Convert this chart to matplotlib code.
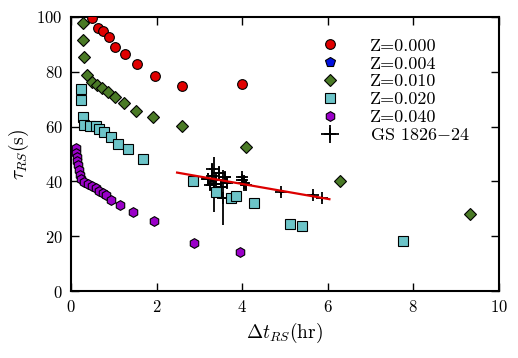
import numpy as np
import matplotlib
matplotlib.use("Agg")
import matplotlib.pyplot as plt

plt.rcParams['font.family'] = 'cmr10'
plt.rcParams['mathtext.fontset'] = 'cm'
plt.rcParams['axes.formatter.use_mathtext'] = True

# model curves (Delta t_RS in hr, tau_RS in s)
z000_x = [0.49, 0.64, 0.76, 0.88, 1.04, 1.26, 1.55, 1.96, 2.59, 4.0]
z000_y = [99.6, 95.9, 94.9, 92.5, 88.9, 86.4, 82.8, 78.5, 74.8, 75.4]

z004_x = []
z004_y = []

z010_x = [0.29, 0.27, 0.30, 0.37, 0.48, 0.61, 0.73, 0.87, 1.03, 1.23, 1.53, 1.91, 2.59, 4.09, 6.28, 9.32]
z010_y = [97.9, 91.6, 85.3, 78.7, 76.4, 75.1, 74.0, 72.6, 70.9, 68.7, 65.8, 63.3, 60.3, 52.7, 40.1, 28.1]

z020_x = [0.23, 0.23, 0.28, 0.31, 0.44, 0.58, 0.66, 0.78, 0.93, 1.11, 1.34, 1.69,
          2.85, 3.40, 3.74, 3.86, 4.28, 5.12, 5.39, 7.77]
z020_y = [73.6, 69.6, 63.4, 60.7, 60.3, 60.2, 59.2, 58.0, 56.1, 53.6, 51.7, 48.1,
          40.3, 36.2, 34.1, 34.8, 32.0, 24.5, 23.7, 18.1]

z040_x = [0.11, 0.12, 0.13, 0.15, 0.16, 0.19, 0.21, 0.23, 0.30, 0.40, 0.50, 0.58,
          0.66, 0.74, 0.81, 0.93, 1.14, 1.46, 1.95, 2.88, 3.96]
z040_y = [52.0, 50.5, 49.0, 47.4, 46.0, 44.2, 42.3, 40.8, 39.7, 39.1, 38.3, 37.5,
          36.6, 35.9, 34.9, 33.2, 31.5, 28.9, 25.5, 17.4, 14.3]

# GS 1826-24 observations
gs_x = [3.20, 3.25, 3.30, 3.35, 3.40, 3.45, 3.50, 3.55, 3.60, 3.65, 3.30,
        4.00, 4.05, 4.10, 4.00, 4.92, 5.66, 5.86]
gs_y = [41.0, 38.5, 42.0, 39.0, 40.5, 43.0, 38.0, 34.0, 41.5, 39.5, 44.5,
        40.5, 39.5, 38.5, 41.5, 36.2, 34.9, 33.8]
gs_xerr = [0.15, 0.10, 0.12, 0.15, 0.10, 0.10, 0.12, 0.10, 0.15, 0.10, 0.08,
           0.10, 0.12, 0.10, 0.10, 0.05, 0.05, 0.05]
gs_yerr = [2.0, 1.5, 3.0, 10.0, 2.0, 2.5, 2.0, 10.0, 2.0, 2.0, 2.0,
           1.5, 3.0, 1.5, 1.0, 1.0, 1.0, 1.0]

# linear fit to GS data
fit_x = [2.48, 6.04]
fit_y = [43.2, 33.5]

fig = plt.figure(figsize=(5.18, 3.58), dpi=100)
ax = fig.add_axes([0.137, 0.187, 0.826, 0.766])

ec = 'k'
h0, = ax.plot(z000_x, z000_y, 'o', color='#e00000', mec=ec, mew=0.8, ms=7, zorder=3, label='Z=0.000')
h1, = ax.plot(z004_x, z004_y, 'p', color='#0010e0', mec=ec, mew=0.8, ms=7, zorder=3, label='Z=0.004')
h2, = ax.plot(z010_x, z010_y, 'D', color='#4a7a26', mec=ec, mew=0.8, ms=6.5, zorder=3, label='Z=0.010')
h3, = ax.plot(z020_x, z020_y, 's', color='#6cc4c8', mec=ec, mew=0.8, ms=6.5, zorder=3, label='Z=0.020')
h4, = ax.plot(z040_x, z040_y, 'h', color='#9a00c8', mec=ec, mew=0.8, ms=7, zorder=3, label='Z=0.040')

gs = ax.errorbar(gs_x, gs_y, xerr=gs_xerr, yerr=gs_yerr, fmt='+', color='k',
                 ms=9, mew=1.3, elinewidth=1.3, capsize=0, zorder=2,
                 label=r'GS 1826$-$24')
ax.plot(fit_x, fit_y, '-', color='#dd0000', lw=1.6, zorder=4)

ax.set_xlim(0, 10)
ax.set_ylim(0, 100)
ax.set_xticks([0, 2, 4, 6, 8, 10])
ax.set_yticks([0, 20, 40, 60, 80, 100])
ax.tick_params(direction='in', top=True, right=True, length=6, width=1, labelsize=12, pad=6)
for s in ax.spines.values():
    s.set_linewidth(1.5)

ax.set_xlabel(r'$\Delta t_{RS}$(hr)', fontsize=14, labelpad=4)
ax.set_ylabel(r'$\tau_{RS}$(s)', fontsize=14, labelpad=4)

ax.legend(handles=[h0, h1, h2, h3, h4, gs], loc='upper right', frameon=False,
          numpoints=1, fontsize=13, handlelength=1.2, handletextpad=1.6,
          labelspacing=0.12, borderaxespad=0.4, bbox_to_anchor=(0.965, 0.975))

fig.savefig('out.png', dpi=100)
